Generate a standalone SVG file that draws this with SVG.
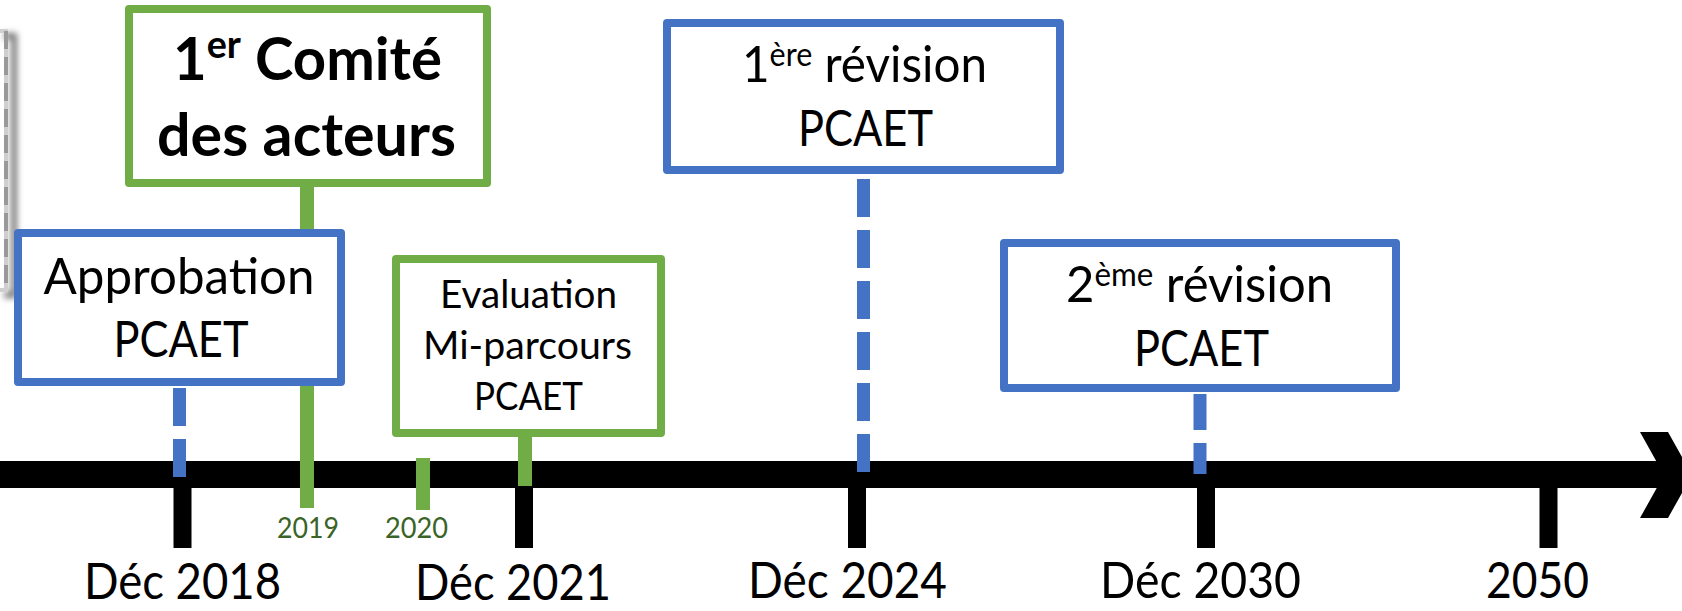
<svg xmlns="http://www.w3.org/2000/svg" width="1682" height="611" viewBox="0 0 1682 611">
<defs>
<filter id="soft" x="-100%" y="-10%" width="300%" height="120%"><feGaussianBlur stdDeviation="3"/></filter>
<style>
.box{fill:#fff;stroke-width:8;stroke-linejoin:round}
.green{stroke:#70AD47}
.blue{stroke:#4472C4}
.t{font-family:Lato,"Liberation Sans",sans-serif;fill:#000;text-anchor:middle}
.reg{font-size:50px}
.bold{font-size:60px;font-weight:bold}
.mid{font-size:39px}
.yr{font-size:29px;fill:#3A6428}
.gl{stroke:#70AD47;stroke-width:14}
.bl{stroke:#4472C4;stroke-width:13;stroke-dasharray:38 13}
.tick{stroke:#000;stroke-width:18}
</style>
</defs>
<rect width="1682" height="611" fill="#fff"/>
<g id="partial-frame">
<path d="M0 33 H10 V292 H0" fill="none" stroke="#777" stroke-width="6" filter="url(#soft)" transform="translate(4,3)"/>
<path d="M0 31 H6 V290 H0" fill="none" stroke="#cfcfcf" stroke-width="4"/>
<path d="M6 31 V290" stroke="#999" stroke-width="4" stroke-dasharray="18 8"/>
</g>
<g id="timeline">
<rect x="0" y="461" width="1664" height="27" fill="#000"/>
<polygon points="1640,432 1668,432 1692,475 1668,518 1640,518 1664,475" fill="#000"/>
<line class="tick" x1="182.5" y1="480" x2="182.5" y2="548"/>
<line class="tick" x1="524" y1="480" x2="524" y2="548"/>
<line class="tick" x1="857" y1="480" x2="857" y2="548"/>
<line class="tick" x1="1206" y1="480" x2="1206" y2="548"/>
<line class="tick" x1="1548.5" y1="480" x2="1548.5" y2="548"/>
<text class="t reg" x="182.5" y="599" textLength="197" lengthAdjust="spacingAndGlyphs">Déc 2018</text>
<text class="t reg" x="513" y="600" textLength="196" lengthAdjust="spacingAndGlyphs">Déc 2021</text>
<text class="t reg" x="847.5" y="598" textLength="199" lengthAdjust="spacingAndGlyphs">Déc 2024</text>
<text class="t reg" x="1200.5" y="598" textLength="201" lengthAdjust="spacingAndGlyphs">Déc 2030</text>
<text class="t reg" x="1537.5" y="598" textLength="103" lengthAdjust="spacingAndGlyphs">2050</text>
<text class="t yr" x="308" y="538" textLength="62" lengthAdjust="spacingAndGlyphs">2019</text>
<text class="t yr" x="416.5" y="538" textLength="63" lengthAdjust="spacingAndGlyphs">2020</text>
</g>
<g id="connectors">
<line class="gl" x1="307" y1="187" x2="307" y2="508"/>
<line class="gl" x1="423" y1="458" x2="423" y2="510"/>
<line class="gl" x1="525" y1="437" x2="525" y2="486"/>
<line class="bl" x1="179.5" y1="388" x2="179.5" y2="477"/>
<line class="bl" x1="863.5" y1="179" x2="863.5" y2="473"/>
<line class="bl" x1="1200" y1="394" x2="1200" y2="474" style="stroke-dasharray:36 13"/>
</g>
<g id="comite">
<rect class="box green" x="129" y="9" width="358" height="174"/>
<text class="t bold" x="307.5" y="80" textLength="269" lengthAdjust="spacingAndGlyphs">1<tspan dy="-22" font-size="39">er</tspan><tspan dy="22"> Comité</tspan></text>
<text class="t bold" x="306.5" y="156" textLength="299" lengthAdjust="spacingAndGlyphs">des acteurs</text>
</g>
<g id="approbation">
<rect class="box blue" x="18" y="233" width="323" height="149"/>
<text class="t reg" x="179" y="294" textLength="271" lengthAdjust="spacingAndGlyphs">Approbation</text>
<text class="t reg" x="181" y="357" textLength="135" lengthAdjust="spacingAndGlyphs">PCAET</text>
</g>
<g id="evaluation">
<rect class="box green" x="396" y="259" width="265" height="174"/>
<text class="t mid" x="528.5" y="308" textLength="177" lengthAdjust="spacingAndGlyphs">Evaluation</text>
<text class="t mid" x="527.5" y="359" textLength="209" lengthAdjust="spacingAndGlyphs">Mi-parcours</text>
<text class="t mid" x="528.5" y="410" textLength="109" lengthAdjust="spacingAndGlyphs">PCAET</text>
</g>
<g id="revision1">
<rect class="box blue" x="667" y="23" width="393" height="147"/>
<text class="t reg" x="864.5" y="82" textLength="245" lengthAdjust="spacingAndGlyphs">1<tspan dy="-16" font-size="32">ère</tspan><tspan dy="16"> révision</tspan></text>
<text class="t reg" x="865.5" y="146" textLength="135" lengthAdjust="spacingAndGlyphs">PCAET</text>
</g>
<g id="revision2">
<rect class="box blue" x="1004" y="243" width="392" height="145"/>
<text class="t reg" x="1199.5" y="302" textLength="267" lengthAdjust="spacingAndGlyphs">2<tspan dy="-16" font-size="32">ème</tspan><tspan dy="16"> révision</tspan></text>
<text class="t reg" x="1201.5" y="366" textLength="135" lengthAdjust="spacingAndGlyphs">PCAET</text>
</g>
</svg>
